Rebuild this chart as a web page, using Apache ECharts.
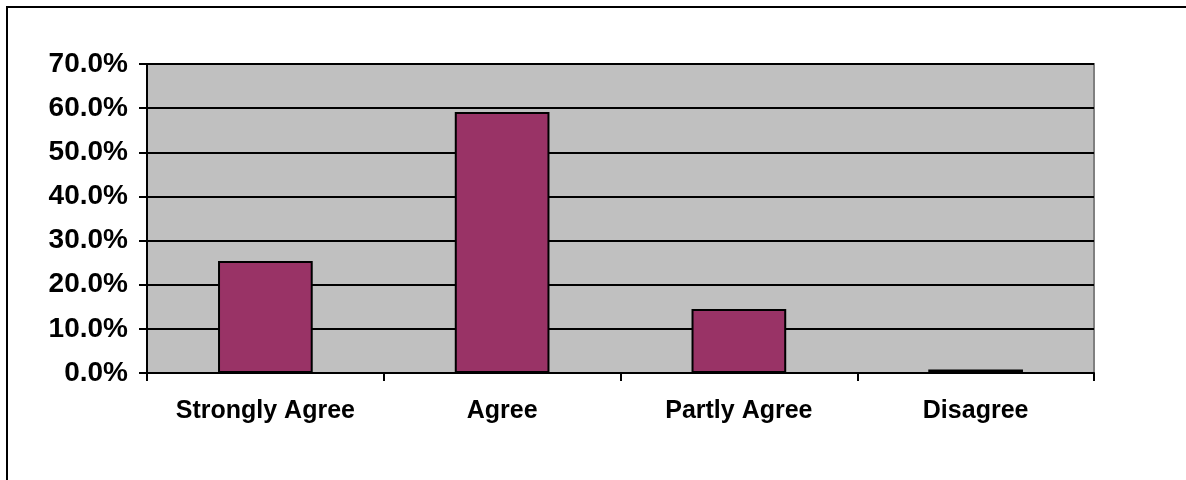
<!DOCTYPE html>
<html>
<head>
<meta charset="utf-8">
<script src="https://cdn.jsdelivr.net/npm/echarts@6/dist/echarts.min.js"></script>
<style>
html,body{margin:0;padding:0;background:#fff;}
#chart{width:1186px;height:480px;}
</style>
</head>
<body>
<div id="chart"></div>
<script>
const categories = ['Strongly Agree', 'Agree', 'Partly Agree', 'Disagree'];
const values = [25.4, 59.1, 14.5, 0.8];
const yTicks = { min: 0, max: 70, interval: 10 };

const chart = echarts.init(document.getElementById('chart'));
const font = '"Liberation Sans", Arial, sans-serif';
chart.setOption({
  animation: false,
  backgroundColor: '#ffffff',
  graphic: [{
    type: 'rect',
    shape: { x: 7, y: 7, width: 1300, height: 600 },
    style: { fill: 'none', stroke: '#000', lineWidth: 2 },
    silent: true
  }],
  grid: {
    left: 147, right: 92, top: 64, bottom: 107,
    show: true, backgroundColor: '#C0C0C0', borderColor: '#808080', borderWidth: 2
  },
  xAxis: {
    type: 'category',
    data: categories,
    axisLine: { lineStyle: { color: '#000', width: 2 } },
    axisTick: { show: true, length: 8, lineStyle: { color: '#000', width: 2 } },
    axisLabel: { color: '#000', fontWeight: 'bold', fontSize: 25, fontFamily: font, margin: 26 },
    splitLine: { show: false }
  },
  yAxis: {
    type: 'value',
    min: yTicks.min, max: yTicks.max, interval: yTicks.interval,
    axisLine: { show: true, lineStyle: { color: '#000', width: 2 } },
    axisTick: { show: true, length: 8, lineStyle: { color: '#000', width: 2 } },
    axisLabel: { color: '#000', fontWeight: 'bold', fontSize: 28, fontFamily: font, margin: 19,
      formatter: v => v.toFixed(1) + '%' },
    splitLine: { show: true, lineStyle: { color: '#000', width: 2 } }
  },
  series: [{
    type: 'bar',
    data: values,
    barWidth: '40%',
    itemStyle: { color: '#993366', borderColor: '#000', borderWidth: 2 }
  }]
});
</script>
</body>
</html>
